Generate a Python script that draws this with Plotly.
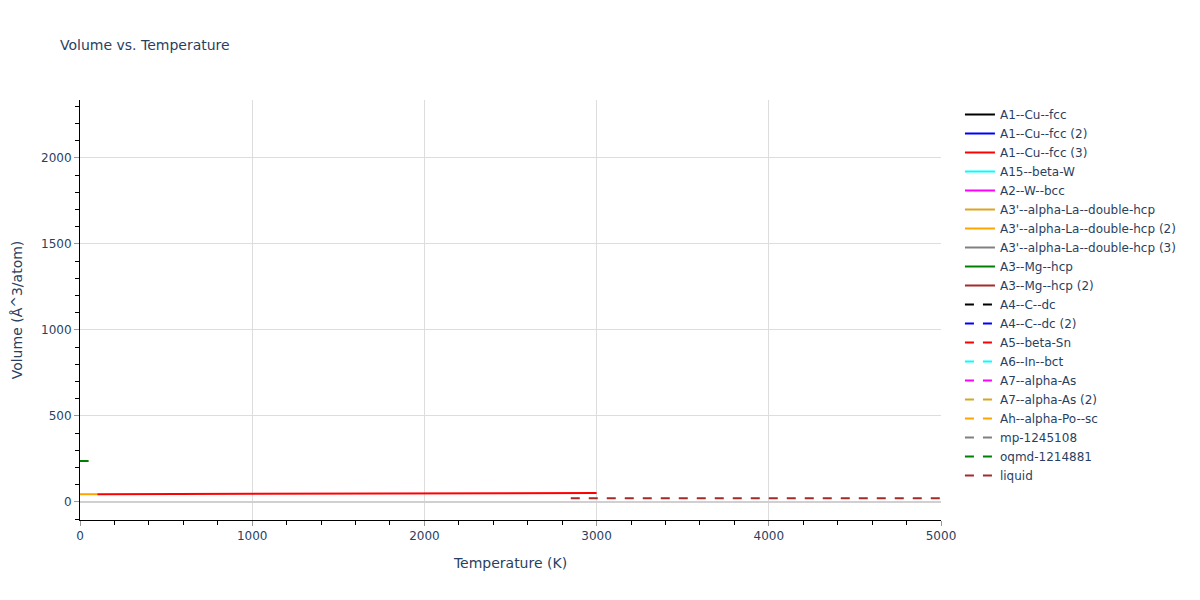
import plotly.graph_objects as go

# legend entries (name, color, dash)
names = ["A1--Cu--fcc", "A1--Cu--fcc (2)", "A1--Cu--fcc (3)", "A15--beta-W", "A2--W--bcc",
         "A3'--alpha-La--double-hcp", "A3'--alpha-La--double-hcp (2)", "A3'--alpha-La--double-hcp (3)",
         "A3--Mg--hcp", "A3--Mg--hcp (2)", "A4--C--dc", "A4--C--dc (2)", "A5--beta-Sn",
         "A6--In--bct", "A7--alpha-As", "A7--alpha-As (2)", "Ah--alpha-Po--sc",
         "mp-1245108", "oqmd-1214881", "liquid"]
colors = ["black", "blue", "red", "cyan", "magenta", "goldenrod", "orange", "grey", "green", "brown"]

# visible data (temperature K, volume Å^3/atom)
red_T = [100, 500, 1000, 1500, 2000, 2500, 3000]
red_V = [45.0, 45.8, 46.8, 47.9, 49.0, 50.2, 51.5]
orange_T = [0, 50, 100]
orange_V = [45.0, 45.0, 45.0]
green_T = [0, 50]
green_V = [238, 238]
liquid_T = [2850, 3500, 4000, 4500, 5000]
liquid_V = [22, 22, 22, 22, 22]

data = {
    "A1--Cu--fcc (3)": (red_T, red_V),
    "A3'--alpha-La--double-hcp (2)": (orange_T, orange_V),
    "A3--Mg--hcp": (green_T, green_V),
    "liquid": (liquid_T, liquid_V),
}

fig = go.Figure()
for i, n in enumerate(names):
    x, y = data.get(n, ([None], [None]))
    fig.add_trace(go.Scatter(
        x=x, y=y, mode="lines", name=n,
        line=dict(color=colors[i % 10], width=2, dash="solid" if i < 10 else "dash"),
    ))

axis_common = dict(showline=True, linecolor="black", ticks="outside", tickcolor="#999999",
                   gridcolor="#dddddd", zeroline=True, zerolinecolor="#d0d0d0", zerolinewidth=2,
                   automargin=False)
fig.update_layout(
    width=1200, height=600,
    margin=dict(l=72, r=267, t=92, b=88),
    title=dict(text="Volume vs. Temperature", font=dict(size=14),
               x=52 / 1200, xanchor="left", y=1 - 37 / 600, yanchor="middle"),
    plot_bgcolor="white", paper_bgcolor="white",
    legend=dict(x=1.022),
    xaxis=dict(title="Temperature (K)", range=[0, 5000], dtick=1000,
               minor=dict(ticks="outside", tickcolor="black", ticklen=4, dtick=200), **axis_common),
    yaxis=dict(title="Volume (Å^3/atom)", range=[-105, 2337], dtick=500,
               minor=dict(ticks="outside", tickcolor="black", ticklen=4, dtick=100), **axis_common),
    font=dict(family="DejaVu Sans, Verdana, sans-serif"),
)
fig.write_html("out.html")
